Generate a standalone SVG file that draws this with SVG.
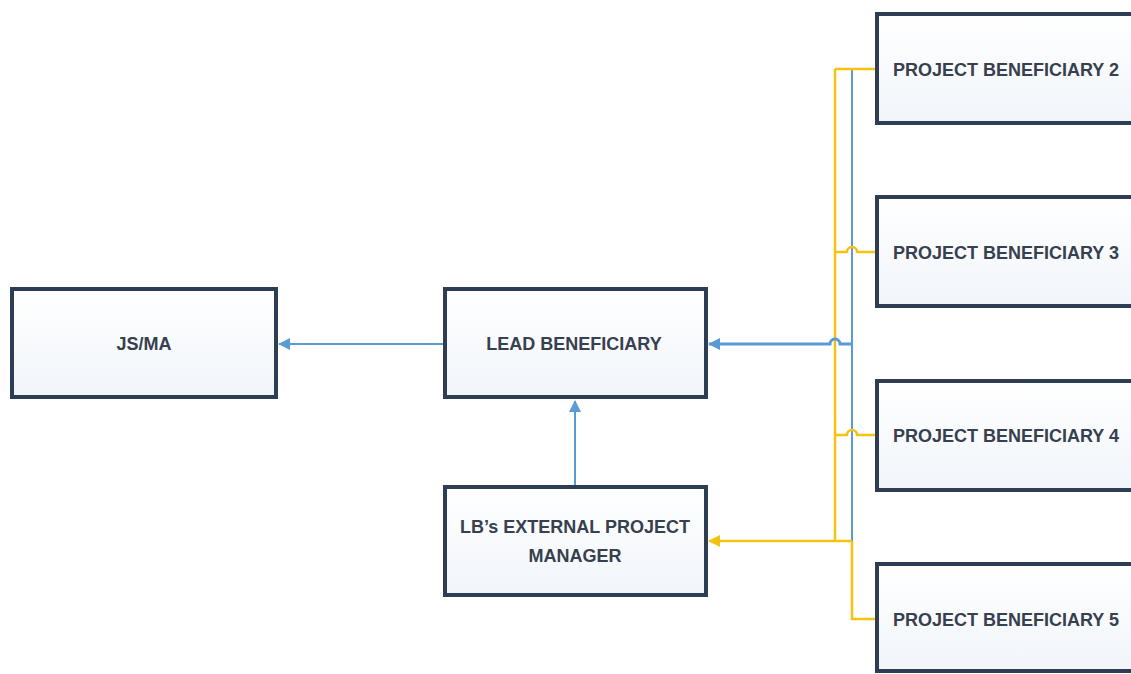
<svg xmlns="http://www.w3.org/2000/svg" width="1131" height="674" viewBox="0 0 1131 674">
  <defs>
    <linearGradient id="boxfill" x1="0" y1="0" x2="0" y2="1">
      <stop offset="0" stop-color="#ffffff"/>
      <stop offset="1" stop-color="#f1f5fa"/>
    </linearGradient>
    <marker id="arrBlue" markerWidth="12" markerHeight="12" refX="11" refY="6" orient="auto" markerUnits="userSpaceOnUse">
      <path d="M0,0 L12,6 L0,12 Z" fill="#5b9bd5"/>
    </marker>
    <marker id="arrYellow" markerWidth="12" markerHeight="12" refX="11" refY="6" orient="auto" markerUnits="userSpaceOnUse">
      <path d="M0,0 L12,6 L0,12 Z" fill="#f5c20f"/>
    </marker>
  </defs>
  <style>
    .box { fill: url(#boxfill); stroke: #2c3d54; stroke-width: 4; }
    .lbl { font-family: "Liberation Sans", Arial, sans-serif; font-weight: bold; font-size: 18px; fill: #36404f; text-anchor: middle; }
    .lbll { font-family: "Liberation Sans", Arial, sans-serif; font-weight: bold; font-size: 18px; fill: #36404f; text-anchor: start; }
    .blue { fill: none; stroke: #5b9bd5; stroke-width: 2; }
    .blueThick { fill: none; stroke: #5b9bd5; stroke-width: 3; }
    .yellow { fill: none; stroke: #f5c20f; stroke-width: 2.5; }
  </style>
  <rect width="1131" height="674" fill="#ffffff"/>

  <g id="connectors">
    <path class="blue" d="M852,70 L852,541"/>
    <path class="yellow" d="M835,69 L835,541"/>
    <path class="yellow" d="M835,69 L877,69"/>
    <path class="yellow" d="M835,252 L847,252 A5,5 0 0 1 857,252 L877,252"/>
    <path class="yellow" d="M835,435 L847,435 A5,5 0 0 1 857,435 L877,435"/>
    <path class="yellow" d="M852,541 L709,541" marker-end="url(#arrYellow)"/>
    <path class="yellow" d="M852,541 L852,619 L877,619"/>
    <path class="blueThick" d="M852,344 L840,344 A5,5 0 0 0 830,344 L709,344" marker-end="url(#arrBlue)"/>
    <path class="blue" d="M443,344 L279,344" marker-end="url(#arrBlue)"/>
    <path class="blue" d="M575,485 L575,401" marker-end="url(#arrBlue)"/>
  </g>

  <g id="node-jsma">
    <rect class="box" x="12" y="289" width="264" height="108"/>
    <text class="lbl" x="144" y="350">JS/MA</text>
  </g>
  <g id="node-lead">
    <rect class="box" x="445" y="289" width="261" height="108"/>
    <text class="lbl" x="574" y="350">LEAD BENEFICIARY</text>
  </g>
  <g id="node-extpm">
    <rect class="box" x="445" y="487" width="261" height="108"/>
    <text class="lbl" x="575" y="533">LB’s EXTERNAL PROJECT</text>
    <text class="lbl" x="575" y="562">MANAGER</text>
  </g>
  <g id="node-pb2">
    <rect class="box" x="877" y="14" width="300" height="109"/>
    <text class="lbll" x="893" y="76">PROJECT BENEFICIARY 2</text>
  </g>
  <g id="node-pb3">
    <rect class="box" x="877" y="197" width="300" height="109"/>
    <text class="lbll" x="893" y="259">PROJECT BENEFICIARY 3</text>
  </g>
  <g id="node-pb4">
    <rect class="box" x="877" y="381" width="300" height="109"/>
    <text class="lbll" x="893" y="442">PROJECT BENEFICIARY 4</text>
  </g>
  <g id="node-pb5">
    <rect class="box" x="877" y="564" width="300" height="107"/>
    <text class="lbll" x="893" y="626">PROJECT BENEFICIARY 5</text>
  </g>
</svg>
